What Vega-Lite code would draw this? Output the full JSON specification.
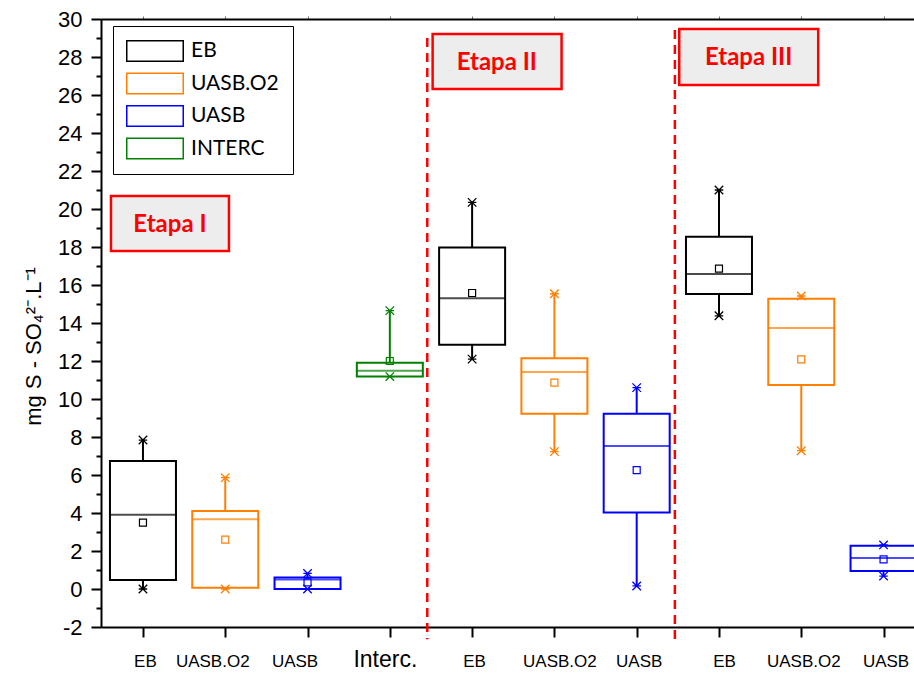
{
  "$schema": "https://vega.github.io/schema/vega-lite/v6.json",
  "width": 813,
  "height": 608,
  "autosize": {"type": "none"},
  "padding": {"left": 101, "top": 19, "right": 0, "bottom": 46},
  "background": "white",
  "config": {"view": {"stroke": null}, "font": "Liberation Sans"},
  "datasets": {
    "boxes": [
      {"pos": 1, "series": "EB", "q1": 0.47, "med": 3.91, "q3": 6.74, "lo": 0, "hi": 7.84, "mean": 3.49},
      {"pos": 2, "series": "UASB.O2", "q1": 0.07, "med": 3.67, "q3": 4.1, "lo": 0, "hi": 5.86, "mean": 2.6},
      {"pos": 3, "series": "UASB", "q1": 0, "med": 0.5, "q3": 0.61, "lo": 0, "hi": 0.82, "mean": 0.35},
      {"pos": 4, "series": "INTERC", "q1": 11.19, "med": 11.49, "q3": 11.91, "lo": 11.18, "hi": 14.65, "mean": 12.0},
      {"pos": 5, "series": "EB", "q1": 12.86, "med": 15.3, "q3": 17.98, "lo": 12.1, "hi": 20.35, "mean": 15.58},
      {"pos": 6, "series": "UASB.O2", "q1": 9.23, "med": 11.42, "q3": 12.14, "lo": 7.23, "hi": 15.54, "mean": 10.86},
      {"pos": 7, "series": "UASB", "q1": 4.02, "med": 7.53, "q3": 9.23, "lo": 0.16, "hi": 10.6, "mean": 6.26},
      {"pos": 8, "series": "EB", "q1": 15.53, "med": 16.58, "q3": 18.54, "lo": 14.38, "hi": 21.0, "mean": 16.86},
      {"pos": 9, "series": "UASB.O2", "q1": 10.74, "med": 13.74, "q3": 15.28, "lo": 7.28, "hi": 15.42, "mean": 12.09},
      {"pos": 10, "series": "UASB", "q1": 0.95, "med": 1.63, "q3": 2.28, "lo": 0.68, "hi": 2.32, "mean": 1.56}
    ],
    "etapas": [
      {"label": "Etapa I", "x": 0.611, "x2": 2.045, "y": 17.79, "y2": 20.68, "cx": 1.328, "cy": 19.2},
      {"label": "Etapa II", "x": 4.52, "x2": 6.087, "y": 26.32, "y2": 29.21, "cx": 5.30, "cy": 27.74},
      {"label": "Etapa III", "x": 7.517, "x2": 9.206, "y": 26.53, "y2": 29.47, "cx": 8.36, "cy": 28.0}
    ],
    "dividers": [
      {"x": 4.455, "top": 29.0, "bottom": -2.65},
      {"x": 7.464, "top": 29.42, "bottom": -2.65}
    ]
  },
  "resolve": {"axis": {"x": "independent", "y": "independent"}},
  "layer": [
    {
      "data": {"name": "etapas"},
      "mark": {"type": "rect", "fill": "#EDEDED", "stroke": "#FF0000", "strokeWidth": 2.5},
      "encoding": {
        "x": {"field": "x", "type": "quantitative", "axis": null, "scale": {"domain": [0.49, 10.37], "nice": false, "zero": false, "padding": 0}},
        "x2": {"field": "x2"},
        "y": {"field": "y", "type": "quantitative", "axis": null, "scale": {"domain": [-2, 30], "nice": false, "zero": false, "padding": 0}},
        "y2": {"field": "y2"}
      }
    },
    {
      "data": {"name": "etapas"},
      "mark": {"type": "text", "font": "Lato", "fontWeight": "bold", "fontSize": 24, "color": "#FF0000", "align": "center", "baseline": "middle", "dy": 1},
      "encoding": {
        "x": {"field": "cx", "type": "quantitative", "axis": null},
        "y": {"field": "cy", "type": "quantitative", "axis": null},
        "text": {"field": "label"}
      }
    },
    {
      "data": {"name": "dividers"},
      "mark": {"type": "rule", "color": "#FF0000", "strokeWidth": 2.5, "strokeDash": [9, 6]},
      "encoding": {
        "x": {"field": "x", "type": "quantitative", "axis": null},
        "y": {"field": "top", "type": "quantitative", "axis": null},
        "y2": {"field": "bottom"}
      }
    },
    {
      "data": {"name": "boxes"},
      "mark": {"type": "point", "opacity": 0},
      "encoding": {
        "x": {"field": "pos", "type": "quantitative", "axis": {
          "orient": "top", "values": [1, 2, 3, 4, 5, 6, 7, 8, 9, 10], "labels": false, "title": null, "grid": false,
          "tickSize": 3, "tickWidth": 1, "tickColor": "#777777", "domainWidth": 2, "domainColor": "black"}},
        "y": {"field": "med", "type": "quantitative", "axis": null}
      }
    },
    {
      "data": {"name": "boxes"},
      "mark": {"type": "bar", "filled": false, "width": 66, "strokeWidth": 2},
      "encoding": {
        "x": {"field": "pos", "type": "quantitative", "axis": {
          "orient": "bottom", "values": [1, 2, 3, 4, 5, 6, 7, 8, 9, 10], "title": null, "grid": false,
          "labelExpr": "['','EB','UASB.O2','UASB','Interc.','EB','UASB.O2','UASB','EB','UASB.O2','UASB'][datum.value]",
          "domainWidth": 2, "domainColor": "black", "tickSize": 10, "tickWidth": 2, "tickColor": "black",
          "labelColor": "black", "labelFont": "Liberation Sans",
          "labelFontSize": {"condition": {"test": "datum.value == 4", "value": 23}, "value": 17},
          "labelBaseline": "alphabetic", "labelPadding": 29,
          "labelOffset": {"condition": [
            {"test": "datum.value == 2 || datum.value == 3", "value": -13},
            {"test": "datum.value == 6 || datum.value == 8", "value": 5},
            {"test": "datum.value == 4", "value": -5}
          ], "value": 2},
          "labelOverlap": false, "labelFlush": false, "labelBound": false}},
        "y": {"field": "q1", "type": "quantitative", "axis": {
          "orient": "left",
          "values": [-2, -1, 0, 1, 2, 3, 4, 5, 6, 7, 8, 9, 10, 11, 12, 13, 14, 15, 16, 17, 18, 19, 20, 21, 22, 23, 24, 25, 26, 27, 28, 29, 30],
          "labelExpr": "datum.value % 2 === 0 ? '' + datum.value : ''",
          "grid": false, "domainWidth": 2, "domainColor": "black",
          "tickSize": {"condition": {"test": "datum.value % 2 !== 0", "value": 5}, "value": 10},
          "tickWidth": 2, "tickColor": "black",
          "labelColor": "black", "labelFont": "Liberation Sans", "labelFontSize": 22, "labelPadding": 9,
          "labelOverlap": false, "labelFlush": false,
          "title": "mg S - SO₄²⁻.L⁻¹", "titleFont": "Liberation Sans", "titleFontSize": 22, "titleFontWeight": "normal",
          "titleColor": "black", "titleAngle": -90, "titleAlign": "center", "titleBaseline": "alphabetic",
          "titleX": -61, "titleY": 327}},
        "y2": {"field": "q3"},
        "color": {"field": "series", "type": "nominal",
          "scale": {"domain": ["EB", "UASB.O2", "UASB", "INTERC"], "range": ["#000000", "#FF7F00", "#0000FF", "#008000"]},
          "legend": {"orient": "none", "legendX": 12, "legendY": 7, "title": null,
            "symbolType": "M-2.636,-1H2.636V1H-2.636Z M-2.5,-0.864V0.864H2.5V-0.864Z", "symbolSize": 484, "symbolStrokeWidth": 0,
            "symbolOffset": 17, "labelOffset": 25,
            "labelFont": "Lato", "labelFontSize": 21, "labelColor": "black", "labelLimit": 300,
            "padding": 14, "rowPadding": 10.5, "strokeColor": "black", "fillColor": "white"}}
      }
    },
    {
      "data": {"name": "boxes"},
      "mark": {"type": "rule", "strokeWidth": 2},
      "encoding": {
        "x": {"field": "pos", "type": "quantitative", "axis": null},
        "y": {"field": "q3", "type": "quantitative", "axis": null},
        "y2": {"field": "hi"},
        "color": {"field": "series", "type": "nominal", "legend": null}
      }
    },
    {
      "data": {"name": "boxes"},
      "mark": {"type": "rule", "strokeWidth": 2},
      "encoding": {
        "x": {"field": "pos", "type": "quantitative", "axis": null},
        "y": {"field": "lo", "type": "quantitative", "axis": null},
        "y2": {"field": "q1"},
        "color": {"field": "series", "type": "nominal", "legend": null}
      }
    },
    {
      "data": {"name": "boxes"},
      "mark": {"type": "tick", "orient": "horizontal", "size": 66, "thickness": 2},
      "encoding": {
        "x": {"field": "pos", "type": "quantitative", "axis": null},
        "y": {"field": "med", "type": "quantitative", "axis": null},
        "color": {"field": "series", "type": "nominal", "legend": null}
      }
    },
    {
      "data": {"name": "boxes"},
      "mark": {"type": "point", "shape": "square", "size": 49, "filled": false, "strokeWidth": 1.2, "opacity": 1},
      "encoding": {
        "x": {"field": "pos", "type": "quantitative", "axis": null},
        "y": {"field": "mean", "type": "quantitative", "axis": null},
        "color": {"field": "series", "type": "nominal", "legend": null}
      }
    },
    {
      "data": {"name": "boxes"},
      "mark": {"type": "point", "shape": "M-1,-1L1,1M-1,1L1,-1M-1,0L1,0", "size": 72, "filled": false, "strokeWidth": 1.3, "opacity": 1},
      "encoding": {
        "x": {"field": "pos", "type": "quantitative", "axis": null},
        "y": {"field": "hi", "type": "quantitative", "axis": null},
        "color": {"field": "series", "type": "nominal", "legend": null}
      }
    },
    {
      "data": {"name": "boxes"},
      "mark": {"type": "point", "shape": "M-1,-1L1,1M-1,1L1,-1M-1,0L1,0", "size": 72, "filled": false, "strokeWidth": 1.3, "opacity": 1},
      "encoding": {
        "x": {"field": "pos", "type": "quantitative", "axis": null},
        "y": {"field": "lo", "type": "quantitative", "axis": null},
        "color": {"field": "series", "type": "nominal", "legend": null}
      }
    }
  ]
}
